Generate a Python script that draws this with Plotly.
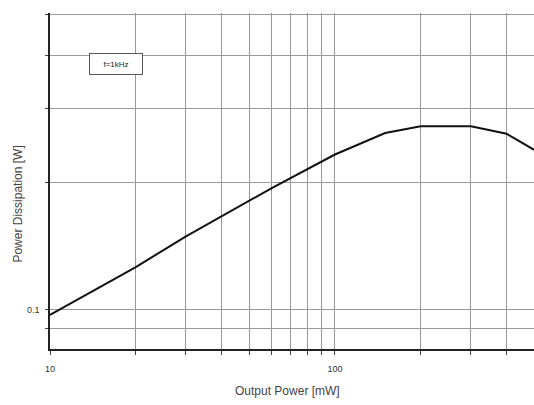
import plotly.graph_objects as go

output_power_mw = [10, 20, 30, 40, 60, 100, 150, 200, 300, 400, 500]
power_dissipation_w = [0.097, 0.126, 0.149, 0.166, 0.194, 0.233, 0.262, 0.272, 0.272, 0.261, 0.239]

x_grid = [10, 20, 30, 40, 50, 60, 70, 80, 90, 100, 200, 300, 400, 500]
x_ticktext = ["10", "", "", "", "", "", "", "", "", "100", "", "", "", ""]
y_grid = [0.08, 0.09, 0.1, 0.2, 0.3, 0.4, 0.5]
y_ticktext = ["", "", "0.1", "", "", "", ""]

font_family = "Liberation Sans, Arial, sans-serif"

fig = go.Figure()
fig.add_trace(go.Scatter(
    x=output_power_mw, y=power_dissipation_w, mode="lines",
    line=dict(color="#111111", width=2), showlegend=False, hoverinfo="skip"))

fig.update_xaxes(
    type="log", range=[1, 2.6985],
    tickvals=x_grid, ticktext=x_ticktext,
    showgrid=True, gridcolor="#999999", gridwidth=1,
    showline=True, linecolor="#222222", linewidth=1.5,
    ticks="outside", ticklen=4, tickcolor="#444444", tickwidth=1,
    tickfont=dict(size=9, color="#333333", family=font_family),
    ticklabelstandoff=6,
    zeroline=False,
)
fig.update_yaxes(
    type="log", range=[-1.094, -0.297],
    tickvals=y_grid, ticktext=y_ticktext,
    showgrid=True, gridcolor="#999999", gridwidth=1,
    showline=True, linecolor="#222222", linewidth=1.5,
    ticks="outside", ticklen=3, tickcolor="#444444", tickwidth=1,
    tickfont=dict(size=9, color="#333333", family=font_family),
    ticklabelstandoff=4,
    zeroline=False,
)

fig.add_annotation(
    x=0.137, y=0.848, xref="paper", yref="paper", xanchor="center", yanchor="middle",
    text="f=1kHz", showarrow=False, width=46, height=14,
    font=dict(size=8, color="#222222", family=font_family),
    bordercolor="#555555", borderwidth=1, borderpad=3, bgcolor="white")

fig.add_annotation(
    x=-0.068, y=0.43, xref="paper", yref="paper", xanchor="center", yanchor="middle",
    text="Power Dissipation [W]", textangle=-90, showarrow=False,
    font=dict(size=12, color="#444444", family=font_family))

fig.add_annotation(
    x=0.49, y=-0.125, xref="paper", yref="paper", xanchor="center", yanchor="middle",
    text="Output Power [mW]", showarrow=False,
    font=dict(size=12, color="#444444", family=font_family))

fig.update_layout(
    width=534, height=405,
    margin=dict(l=50, r=0, t=13, b=56),
    paper_bgcolor="white", plot_bgcolor="white",
    font=dict(family=font_family),
)

fig.write_html("out.html")
